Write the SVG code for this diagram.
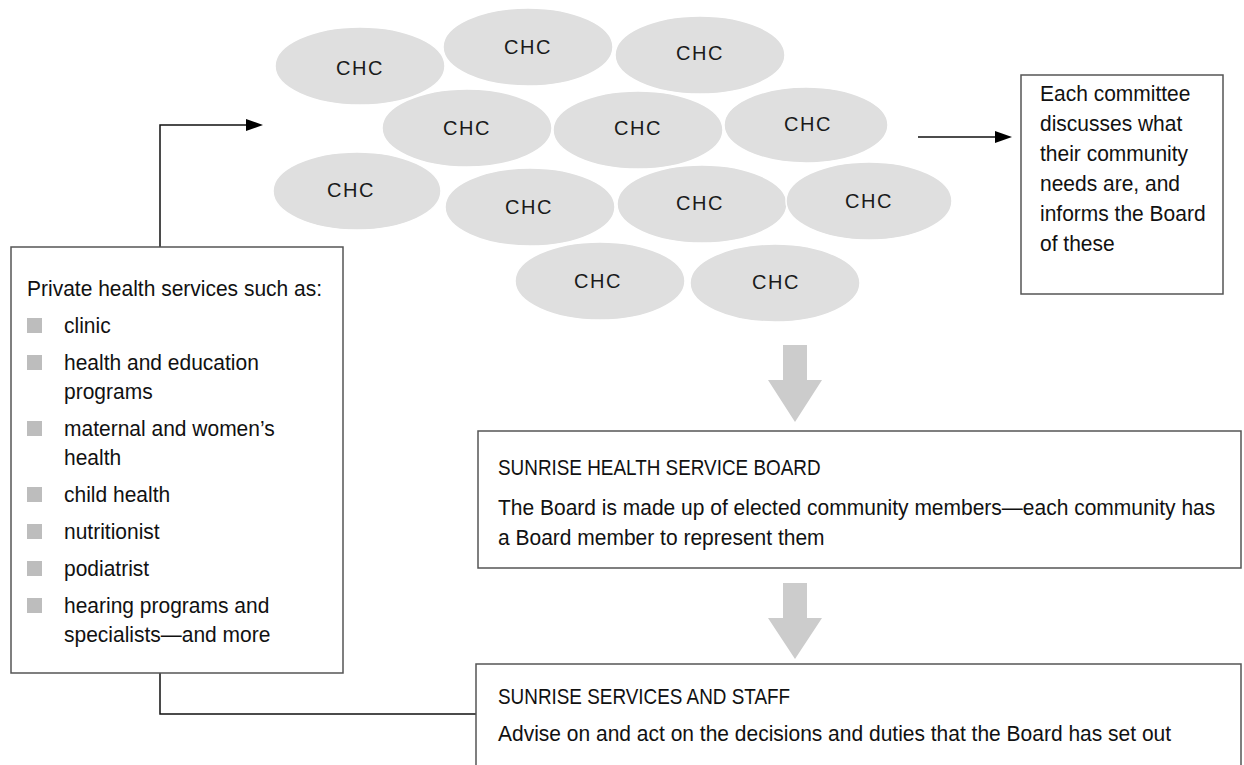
<svg xmlns="http://www.w3.org/2000/svg" width="1244" height="765" viewBox="0 0 1244 765">
<defs>
<style>
.bg{fill:#ffffff}
.chc ellipse{fill:#dfdfdf;stroke:#ffffff;stroke-width:1.5}
.chc text{font-family:"Liberation Sans",Arial,sans-serif;font-size:20px;fill:#1a1a1a;text-anchor:middle;letter-spacing:1.5px}
.box{fill:#ffffff;stroke:#555555;stroke-width:1.5}
.t{font-family:"Liberation Sans",Arial,sans-serif;font-size:22.5px;fill:#111111}
.bul{fill:#bdbdbd}
.conn{fill:none;stroke:#111111;stroke-width:1.5}
.big{fill:#cccccc}
</style>
<marker id="ah" viewBox="0 0 17 12" refX="7" refY="6" markerWidth="17" markerHeight="12" markerUnits="userSpaceOnUse" orient="auto">
<path d="M0,0 L17,6 L0,12 z" fill="#000000"/>
</marker>
</defs>
<rect class="bg" x="0" y="0" width="1244" height="765"/>

<g id="chc-cluster" class="chc">
<g id="chc1"><ellipse cx="360" cy="66" rx="85" ry="39"/><text x="360" y="75">CHC</text></g>
<g id="chc2"><ellipse cx="528" cy="47" rx="85" ry="39"/><text x="528" y="54">CHC</text></g>
<g id="chc3"><ellipse cx="700" cy="55" rx="85" ry="39"/><text x="700" y="60">CHC</text></g>
<g id="chc4"><ellipse cx="467" cy="128" rx="85" ry="39"/><text x="467" y="135">CHC</text></g>
<g id="chc5"><ellipse cx="638" cy="130" rx="85" ry="39"/><text x="638" y="135">CHC</text></g>
<g id="chc6"><ellipse cx="806" cy="125" rx="82" ry="38"/><text x="808" y="131">CHC</text></g>
<g id="chc7"><ellipse cx="357" cy="191" rx="84" ry="39"/><text x="351" y="197">CHC</text></g>
<g id="chc8"><ellipse cx="530" cy="207" rx="85" ry="39"/><text x="529" y="214">CHC</text></g>
<g id="chc9"><ellipse cx="702" cy="204" rx="85" ry="39"/><text x="700" y="210">CHC</text></g>
<g id="chc10"><ellipse cx="869" cy="201" rx="83" ry="39"/><text x="869" y="208">CHC</text></g>
<g id="chc11"><ellipse cx="600" cy="281" rx="85" ry="39"/><text x="598" y="288">CHC</text></g>
<g id="chc12"><ellipse cx="775" cy="283" rx="85" ry="39"/><text x="776" y="289">CHC</text></g>
</g>

<g id="connectors">
<path class="conn" d="M160,247 V125 H253" marker-end="url(#ah)"/>
<path class="conn" d="M918,137 H1002" marker-end="url(#ah)"/>
<path class="conn" d="M160,673 V714 H476"/>
<polygon class="big" points="783,345 807,345 807,380 822,380 795,422 768,380 783,380"/>
<polygon class="big" points="783,583 807,583 807,618 822,618 795,659 768,618 783,618"/>
</g>

<g id="committee-note">
<rect class="box" x="1021" y="75" width="202" height="219"/>
<text class="t" transform="translate(1040,101) scale(0.933,1)">Each committee</text>
<text class="t" transform="translate(1040,131) scale(0.933,1)">discusses what</text>
<text class="t" transform="translate(1040,161) scale(0.933,1)">their community</text>
<text class="t" transform="translate(1040,191) scale(0.933,1)">needs are, and</text>
<text class="t" transform="translate(1040,221) scale(0.933,1)">informs the Board</text>
<text class="t" transform="translate(1040,251) scale(0.933,1)">of these</text>
</g>

<g id="private-services">
<rect class="box" x="11" y="247" width="332" height="426"/>
<text class="t" transform="translate(27,296) scale(0.933,1)">Private health services such as:</text>
<rect class="bul" x="27" y="318" width="15" height="15"/>
<text class="t" transform="translate(64,333) scale(0.933,1)">clinic</text>
<rect class="bul" x="27" y="355" width="15" height="15"/>
<text class="t" transform="translate(64,370) scale(0.933,1)">health and education</text>
<text class="t" transform="translate(64,399) scale(0.933,1)">programs</text>
<rect class="bul" x="27" y="421" width="15" height="15"/>
<text class="t" transform="translate(64,436) scale(0.933,1)">maternal and women’s</text>
<text class="t" transform="translate(64,465) scale(0.933,1)">health</text>
<rect class="bul" x="27" y="487" width="15" height="15"/>
<text class="t" transform="translate(64,502) scale(0.933,1)">child health</text>
<rect class="bul" x="27" y="524" width="15" height="15"/>
<text class="t" transform="translate(64,539) scale(0.933,1)">nutritionist</text>
<rect class="bul" x="27" y="561" width="15" height="15"/>
<text class="t" transform="translate(64,576) scale(0.933,1)">podiatrist</text>
<rect class="bul" x="27" y="598" width="15" height="15"/>
<text class="t" transform="translate(64,613) scale(0.933,1)">hearing programs and</text>
<text class="t" transform="translate(64,642) scale(0.933,1)">specialists—and more</text>
</g>

<g id="board">
<rect class="box" x="478" y="431" width="763" height="137"/>
<text class="t" transform="translate(498,475) scale(0.84,1)">SUNRISE HEALTH SERVICE BOARD</text>
<text class="t" transform="translate(498,515) scale(0.933,1)">The Board is made up of elected community members—each community has</text>
<text class="t" transform="translate(498,545) scale(0.933,1)">a Board member to represent them</text>
</g>

<g id="services">
<rect class="box" x="476" y="664" width="765" height="120"/>
<text class="t" transform="translate(498,704) scale(0.84,1)">SUNRISE SERVICES AND STAFF</text>
<text class="t" transform="translate(498,741) scale(0.933,1)">Advise on and act on the decisions and duties that the Board has set out</text>
</g>
</svg>
